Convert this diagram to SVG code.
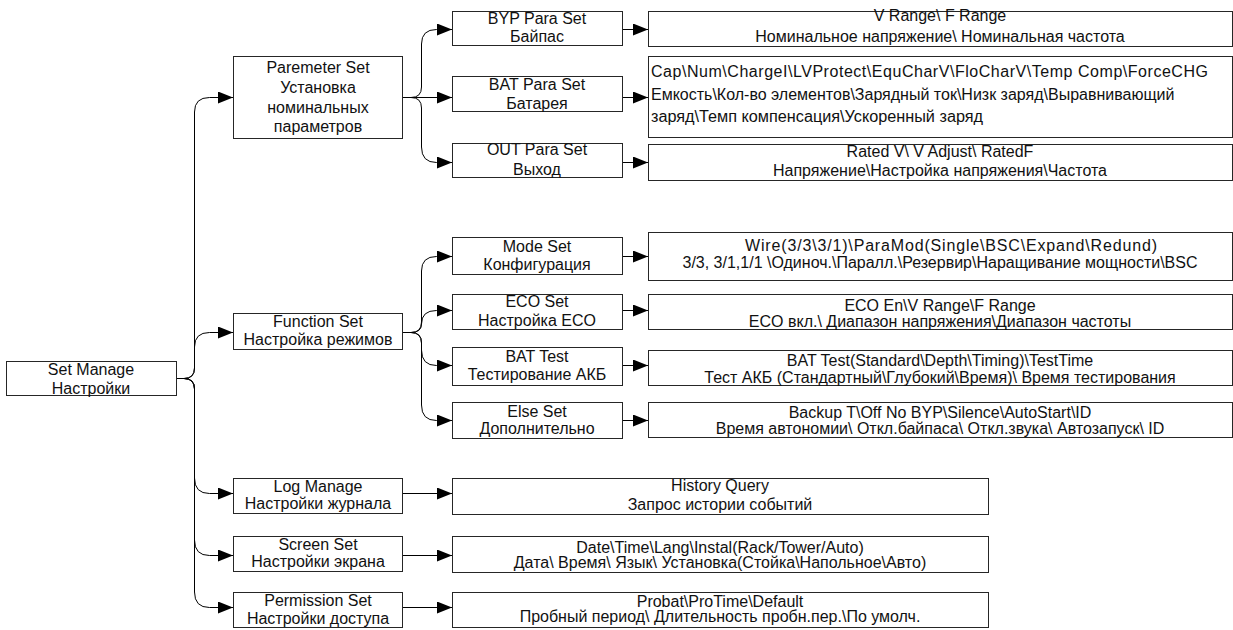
<svg xmlns="http://www.w3.org/2000/svg" width="1233" height="630" viewBox="0 0 1233 630">
<style>
.box{fill:#fff;stroke:#262626;stroke-width:1}
.t{font-family:"Liberation Sans",Arial,sans-serif;font-size:16px;fill:#111;text-anchor:middle}
.l{text-anchor:start}
.c{fill:none;stroke:#000;stroke-width:1;marker-end:url(#ah)}
</style>
<defs>
<marker id="ah" markerUnits="userSpaceOnUse" markerWidth="15" markerHeight="12" refX="15" refY="6" orient="auto">
<path d="M0,0 L15,6 L0,12 z" fill="#000"/>
</marker>
</defs>
<rect width="1233" height="630" fill="#fff"/>
<g id="connectors">
<path class="c" d="M176,378.5 H184 Q194.5,378.5 194.5,368 V112 Q194.5,97.5 209.5,97.5 H233"/>
<path class="c" d="M176,378.5 H184 Q194.5,378.5 194.5,368 V347 Q194.5,332.5 209.5,332.5 H233"/>
<path class="c" d="M176,378.5 H184 Q194.5,378.5 194.5,389 V478 Q194.5,493.5 209.5,493.5 H233"/>
<path class="c" d="M176,378.5 H184 Q194.5,378.5 194.5,389 V540 Q194.5,555.5 209.5,555.5 H233"/>
<path class="c" d="M176,378.5 H184 Q194.5,378.5 194.5,389 V592 Q194.5,607.5 209.5,607.5 H233"/>
<path class="c" d="M402,97.5 H411 Q421.5,97.5 421.5,87 V44 Q421.5,29.5 436.5,29.5 H452"/>
<path class="c" d="M402,97.5 H452"/>
<path class="c" d="M402,97.5 H411 Q421.5,97.5 421.5,108 V147 Q421.5,162.5 436.5,162.5 H452"/>
<path class="c" d="M402,332.5 H411 Q421.5,332.5 421.5,322 V271 Q421.5,256.5 436.5,256.5 H452"/>
<path class="c" d="M402,332.5 H411 Q421.5,332.5 421.5,324 Q421.5,310.5 436.5,310.5 H452"/>
<path class="c" d="M402,332.5 H411 Q421.5,332.5 421.5,343 V350 Q421.5,365.5 436.5,365.5 H452"/>
<path class="c" d="M402,332.5 H411 Q421.5,332.5 421.5,343 V405 Q421.5,420.5 436.5,420.5 H452"/>
<path class="c" d="M622,29.5 H648"/>
<path class="c" d="M622,97.5 H648"/>
<path class="c" d="M622,162.5 H648"/>
<path class="c" d="M622,256.5 H648"/>
<path class="c" d="M622,310.5 H648"/>
<path class="c" d="M622,365.5 H648"/>
<path class="c" d="M622,420.5 H648"/>
<path class="c" d="M402,493.5 H452"/>
<path class="c" d="M402,555.5 H452"/>
<path class="c" d="M402,607.5 H452"/>
</g>
<g id="set-manage"><rect class="box" x="6.5" y="361.5" width="170" height="34"/><text class="t" x="91" y="375">Set Manage</text><text class="t" x="91" y="394">Настройки</text></g>
<g id="param-set"><rect class="box" x="233.5" y="56.5" width="169" height="82"/><text class="t" x="318" y="73">Paremeter Set</text><text class="t" x="318" y="93">Установка</text><text class="t" x="318" y="113">номинальных</text><text class="t" x="318" y="132">параметров</text></g>
<g id="function-set"><rect class="box" x="233.5" y="313.5" width="169" height="36"/><text class="t" x="318" y="327">Function Set</text><text class="t" x="318" y="345">Настройка режимов</text></g>
<g id="log-manage"><rect class="box" x="233.5" y="478.5" width="169" height="35"/><text class="t" x="318" y="492">Log Manage</text><text class="t" x="318" y="509">Настройки журнала</text></g>
<g id="screen-set"><rect class="box" x="233.5" y="536.5" width="169" height="35"/><text class="t" x="318" y="550">Screen Set</text><text class="t" x="318" y="567">Настройки экрана</text></g>
<g id="permission-set"><rect class="box" x="233.5" y="592.5" width="169" height="35"/><text class="t" x="318" y="606">Permission Set</text><text class="t" x="318" y="624">Настройки доступа</text></g>
<g id="byp-para"><rect class="box" x="452.5" y="11.5" width="170" height="34"/><text class="t" x="537" y="23.5">BYP Para Set</text><text class="t" x="537" y="42">Байпас</text></g>
<g id="bat-para"><rect class="box" x="452.5" y="76.5" width="170" height="35"/><text class="t" x="537" y="90">BAT Para Set</text><text class="t" x="537" y="109">Батарея</text></g>
<g id="out-para"><rect class="box" x="452.5" y="143.5" width="170" height="34"/><text class="t" x="537" y="155">OUT Para Set</text><text class="t" x="537" y="175">Выход</text></g>
<g id="mode-set"><rect class="box" x="452.5" y="237.5" width="170" height="37"/><text class="t" x="537" y="251.5">Mode Set</text><text class="t" x="537" y="270">Конфигурация</text></g>
<g id="eco-set"><rect class="box" x="452.5" y="294.5" width="170" height="35"/><text class="t" x="537" y="307">ECO Set</text><text class="t" x="537" y="326">Настройка ECO</text></g>
<g id="bat-test"><rect class="box" x="452.5" y="347.5" width="170" height="38"/><text class="t" x="537" y="361.5">BAT Test</text><text class="t" x="537" y="380">Тестирование АКБ</text></g>
<g id="else-set"><rect class="box" x="452.5" y="402.5" width="170" height="36"/><text class="t" x="537" y="416.5">Else Set</text><text class="t" x="537" y="434">Дополнительно</text></g>
<g id="byp-detail"><rect class="box" x="648.5" y="11.5" width="584" height="35"/><text class="t" x="940" y="21">V Range\ F Range</text><text class="t" x="940" y="42">Номинальное напряжение\ Номинальная частота</text></g>
<g id="bat-detail"><rect class="box" x="648.5" y="56.5" width="584" height="81"/><text class="t l" x="651" y="77" textLength="557" lengthAdjust="spacing">Cap\Num\ChargeI\LVProtect\EquCharV\FloCharV\Temp Comp\ForceCHG</text><text class="t l" x="651" y="100">Емкость\Кол-во элементов\Зарядный ток\Низк заряд\Выравнивающий</text><text class="t l" x="651" y="122" textLength="332" lengthAdjust="spacingAndGlyphs">заряд\Темп компенсация\Ускоренный заряд</text></g>
<g id="out-detail"><rect class="box" x="648.5" y="144.5" width="584" height="36"/><text class="t" x="940" y="157">Rated V\ V Adjust\ RatedF</text><text class="t" x="940" y="176">Напряжение\Настройка напряжения\Частота</text></g>
<g id="mode-detail"><rect class="box" x="648.5" y="232.5" width="584" height="48"/><text class="t" x="951" y="250.5" textLength="412" lengthAdjust="spacing">Wire(3/3\3/1)\ParaMod(Single\BSC\Expand\Redund)</text><text class="t" x="940" y="267.5">3/3, 3/1,1/1 \Одиноч.\Паралл.\Резервир\Наращивание мощности\BSC</text></g>
<g id="eco-detail"><rect class="box" x="648.5" y="294.5" width="584" height="35"/><text class="t" x="940" y="311">ECO En\V Range\F Range</text><text class="t" x="940" y="327">ECO вкл.\ Диапазон напряжения\Диапазон частоты</text></g>
<g id="battest-detail"><rect class="box" x="648.5" y="350.5" width="584" height="35"/><text class="t" x="940" y="366">BAT Test(Standard\Depth\Timing)\TestTime</text><text class="t" x="940" y="383">Тест АКБ (Стандартный\Глубокий\Время)\ Время тестирования</text></g>
<g id="else-detail"><rect class="box" x="648.5" y="402.5" width="584" height="35"/><text class="t" x="940" y="418">Backup T\Off No BYP\Silence\AutoStart\ID</text><text class="t" x="940" y="434">Время автономии\ Откл.байпаса\ Откл.звука\ Автозапуск\ ID</text></g>
<g id="history-detail"><rect class="box" x="452.5" y="478.5" width="536" height="36"/><text class="t" x="720" y="491">History Query</text><text class="t" x="720" y="510">Запрос истории событий</text></g>
<g id="screen-detail"><rect class="box" x="452.5" y="536.5" width="536" height="36"/><text class="t" x="720" y="552.5">Date\Time\Lang\Instal(Rack/Tower/Auto)</text><text class="t" x="720" y="567.5">Дата\ Время\ Язык\ Установка(Стойка\Напольное\Авто)</text></g>
<g id="perm-detail"><rect class="box" x="452.5" y="592.5" width="536" height="35"/><text class="t" x="720" y="607">Probat\ProTime\Default</text><text class="t" x="720" y="622">Пробный период\ Длительность пробн.пер.\По умолч.</text></g>
</svg>
